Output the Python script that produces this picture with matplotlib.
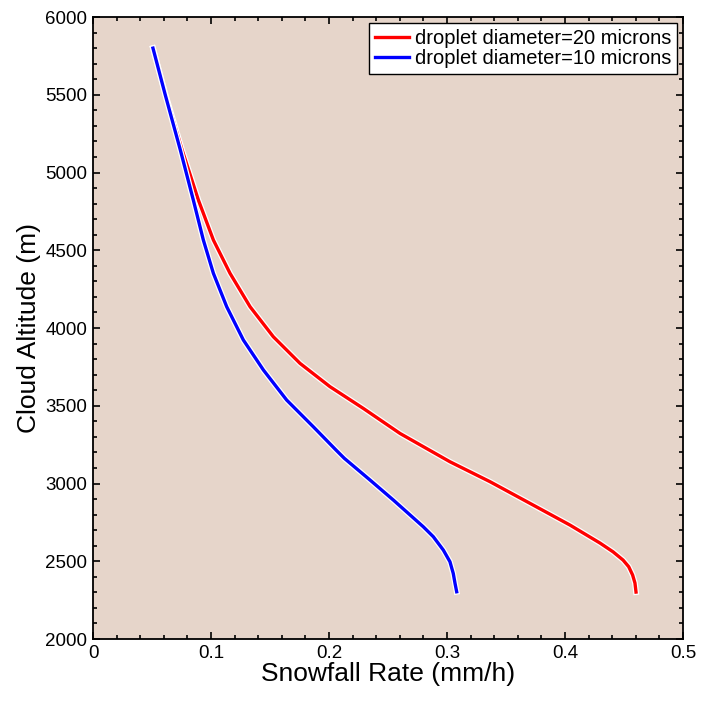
import matplotlib
matplotlib.use("Agg")
import matplotlib.pyplot as plt
import matplotlib.patheffects as pe
from matplotlib.ticker import MultipleLocator, FuncFormatter

plt.rcParams["font.family"] = ["Liberation Sans", "DejaVu Sans"]

# values
alt_20 = [5800, 5500, 5145, 4823, 4566, 4352, 4137, 3944, 3773, 3623, 3483, 3322,
          3140, 3012, 2862, 2733, 2617, 2561, 2508, 2465, 2412, 2360, 2302]
rate_20 = [0.0508, 0.0615, 0.0755, 0.0893, 0.1020, 0.1161, 0.1331, 0.1528, 0.1754,
           0.2008, 0.2291, 0.2602, 0.3025, 0.3364, 0.3729, 0.4042, 0.4297, 0.4407,
           0.4492, 0.4540, 0.4573, 0.4593, 0.4602]

alt_10 = [5800, 5500, 5145, 4823, 4566, 4352, 4137, 3923, 3730, 3537, 3365, 3215,
          3162, 3023, 2894, 2722, 2658, 2572, 2497, 2422, 2358, 2304]
rate_10 = [0.0508, 0.0612, 0.0740, 0.0850, 0.0935, 0.1020, 0.1133, 0.1274, 0.1444,
           0.1641, 0.1867, 0.2060, 0.2130, 0.2347, 0.2545, 0.2799, 0.2884, 0.2969,
           0.3025, 0.3053, 0.3068, 0.3082]

labels = ["droplet diameter=20 microns", "droplet diameter=10 microns"]

fig = plt.figure(figsize=(7.01, 7.01), dpi=100)
ax = fig.add_axes([0.1327, 0.0884, 0.8416, 0.8873])
ax.set_facecolor("#e6d5ca")

halo = [pe.Stroke(linewidth=4.2, foreground="white"), pe.Normal()]
ax.plot(rate_20, alt_20, color="#ff0000", lw=2.4, label=labels[0], path_effects=halo)
ax.plot(rate_10, alt_10, color="#0000ff", lw=2.4, label=labels[1], path_effects=halo)

ax.set_xlim(0, 0.5)
ax.set_ylim(2000, 6000)
ax.xaxis.set_major_locator(MultipleLocator(0.1))
ax.xaxis.set_minor_locator(MultipleLocator(0.02))
ax.yaxis.set_major_locator(MultipleLocator(500))
ax.yaxis.set_minor_locator(MultipleLocator(100))
ax.xaxis.set_major_formatter(FuncFormatter(lambda v, _: f"{v:g}"))
ax.tick_params(which="both", direction="in", top=True, right=True, labelsize=13.5, width=1.2)
ax.tick_params(which="major", length=5, pad=4)
ax.tick_params(which="minor", length=3)
for s in ax.spines.values():
    s.set_linewidth(1.3)

ax.set_xlabel("Snowfall Rate (mm/h)", fontsize=19, labelpad=0)
ax.set_ylabel("Cloud Altitude (m)", fontsize=19, labelpad=3)

leg = ax.legend(loc="upper right", fontsize=14.5, fancybox=False, framealpha=1,
                edgecolor="black", borderpad=0.3, handlelength=1.7, handletextpad=0.25,
                labelspacing=0.05, borderaxespad=0.3)
leg.get_frame().set_linewidth(1.0)

fig.savefig("out.png", dpi=100)
